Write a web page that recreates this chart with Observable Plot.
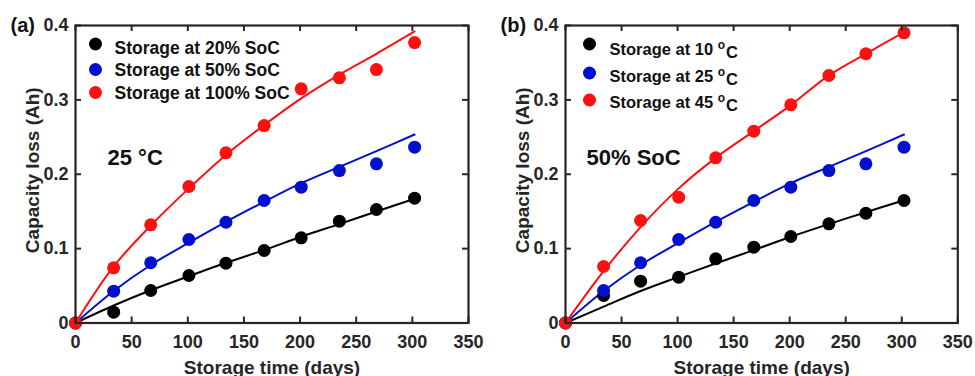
<!DOCTYPE html>
<html><head><meta charset="utf-8">
<script src="https://cdn.jsdelivr.net/npm/d3@7"></script>
<script src="https://cdn.jsdelivr.net/npm/@observablehq/plot@0.6"></script>
<style>
html,body{margin:0;padding:0;background:#fff;}
#wrap{position:relative;width:975px;height:376px;overflow:hidden;background:#fff;}
#a{position:absolute;left:0;top:0;}
#b{position:absolute;left:490px;top:0;}
</style></head><body>
<div id="wrap"><div id="a"></div><div id="b"></div></div>
<script>
// ---- data ----
const days = [0, 34, 67, 101, 134, 168, 201, 235, 268, 302];
const xTicks = [0, 50, 100, 150, 200, 250, 300, 350];
const yTicks = [0, 0.1, 0.2, 0.3, 0.4];
const xLabel = "Storage time (days)";
const yLabel = "Capacity loss (Ah)";
const colors = ["#000000", "#0010cc", "#ff1010"];

// panel (a): 25 °C, different SoC
const socNames = ["Storage at 20% SoC", "Storage at 50% SoC", "Storage at 100% SoC"];
const soc20 = [0, 0.0145, 0.0437, 0.0639, 0.0804, 0.0975, 0.1145, 0.1369, 0.1526, 0.1678];
const soc50 = [0, 0.0428, 0.0810, 0.1123, 0.1355, 0.1647, 0.1826, 0.2050, 0.2140, 0.2364];
const soc100 = [0, 0.0742, 0.1320, 0.1835, 0.2288, 0.2655, 0.3149, 0.3297, 0.3408, 0.3771];
const fit20 = [0, 0.0235, 0.044, 0.063, 0.081, 0.098, 0.116, 0.133, 0.150, 0.167];
const fit50 = [0, 0.043, 0.078, 0.108, 0.136, 0.163, 0.188, 0.210, 0.231, 0.2534];
const fit100 = [0, 0.076, 0.131, 0.181, 0.226, 0.266, 0.302, 0.334, 0.362, 0.392];

// panel (b): 50% SoC, different temperatures
const tempNames = ["Storage at 10 °C", "Storage at 25 °C", "Storage at 45 °C"];
const t10 = [0, 0.0370, 0.0562, 0.0616, 0.0863, 0.1020, 0.1163, 0.1334, 0.1476, 0.1647];
const t25 = [0, 0.0437, 0.0810, 0.1123, 0.1355, 0.1647, 0.1826, 0.2050, 0.2140, 0.2364];
const t45 = [0, 0.0760, 0.1378, 0.1691, 0.2221, 0.2579, 0.2934, 0.3328, 0.3620, 0.3902];
const fit10 = [0, 0.022, 0.043, 0.062, 0.080, 0.098, 0.116, 0.133, 0.149, 0.165];
const fit25 = [0, 0.043, 0.078, 0.108, 0.136, 0.163, 0.188, 0.210, 0.231, 0.2534];
const fit45 = [0, 0.0697, 0.129, 0.181, 0.222, 0.258, 0.293, 0.333, 0.362, 0.391];

const FONT = "'Liberation Sans', Arial, Helvetica, sans-serif";
const INK = "#262626";

function panel(o) {
  const W = o.width, H = 376, mL = 75, mR = o.marginRight, mT = 25, mB = 53.5;
  const pw = W - mL - mR, ph = H - mT - mB;
  const pts = [], fits = [];
  o.names.forEach((n, k) => days.forEach((d, i) => {
    pts.push({day: d, loss: o.values[k][i], name: n});
    fits.push({day: d, loss: o.fits[k][i], name: n});
  }));
  const legend = [];
  o.names.forEach((n, k) => {
    legend.push(Plot.dot([n], {frameAnchor: "top-left", dx: o.ldx, dy: o.ldy[k], r: 6.5, fill: d => d}));
    legend.push(Plot.text([n], {frameAnchor: "top-left", dx: o.tdx, dy: o.tdy[k], text: d => d,
      textAnchor: "start", lineAnchor: "middle", fontSize: o.lfont, fill: "#111"}));
  });
  return Plot.plot({
    width: W, height: H, marginLeft: mL, marginRight: mR, marginTop: mT, marginBottom: mB,
    x: {domain: [0, 350]},
    y: {domain: [0, 0.4]},
    color: {domain: o.names, range: colors},
    style: {fontFamily: FONT, fontWeight: "bold", fontSize: "18px", color: INK, background: "white", overflow: "visible"},
    marks: [
      Plot.line(fits, {x: "day", y: "loss", z: "name", stroke: "name", strokeWidth: 2, curve: "catmull-rom"}),
      Plot.dot(pts, {x: "day", y: "loss", fill: "name", r: 6.5}),
      Plot.tickX(xTicks, {x: d => d, insetTop: ph - 6, stroke: INK, strokeWidth: 2}),
      Plot.tickX(xTicks, {x: d => d, insetBottom: ph - 6, stroke: INK, strokeWidth: 2}),
      Plot.tickY(yTicks, {y: d => d, insetRight: pw - 6, stroke: INK, strokeWidth: 2}),
      Plot.tickY(yTicks, {y: d => d, insetLeft: pw - 6, stroke: INK, strokeWidth: 2}),
      Plot.frame({stroke: INK, strokeWidth: 2.2}),
      Plot.axisX({ticks: xTicks, tickSize: 0, tickPadding: 12.5, label: null, fontSize: 18, fill: INK}),
      Plot.axisY({ticks: yTicks, tickSize: 0, tickPadding: 7, label: null, fontSize: 18, fill: INK, tickFormat: d => String(d)}),
      Plot.text([xLabel], {frameAnchor: "bottom", dy: 50.5, text: d => d, textAnchor: "middle", lineAnchor: "bottom", fontSize: 19, fill: INK}),
      Plot.text([yLabel], {frameAnchor: "left", dx: -37, dy: -4, rotate: -90, text: d => d, textAnchor: "middle", lineAnchor: "bottom", fontSize: 19, fill: INK}),
      Plot.text([o.tag], {frameAnchor: "top-left", dx: -65, dy: 0, text: d => d, textAnchor: "start", lineAnchor: "middle", fontSize: 20, fill: "#111"}),
      Plot.text([o.note], {frameAnchor: "top-left", dx: o.ndx, dy: 132, text: d => d, textAnchor: "start", lineAnchor: "middle", fontSize: 22, fill: "#111"}),
      ...legend
    ]
  });
}

const a = panel({
  width: 490, marginRight: 22, tag: "(a)", note: "25 °C", ndx: 32,
  names: socNames, values: [soc20, soc50, soc100], fits: [fit20, fit50, fit100],
  ldx: 20, ldy: [18.5, 44, 67], tdx: 39, tdy: [22.5, 44.5, 67.5], lfont: 17.5
});
const b = panel({
  width: 485, marginRight: 17.7, tag: "(b)", note: "50% SoC", ndx: 21,
  names: tempNames, values: [t10, t25, t45], fits: [fit10, fit25, fit45],
  ldx: 24, ldy: [18.5, 47.5, 74.5], tdx: 44, tdy: [24.5, 51.5, 77.5], lfont: 16.5
});
document.getElementById("a").appendChild(a);
document.getElementById("b").appendChild(b);

// superscript "o" in the temperature legend entries
d3.select(b).selectAll("text").each(function() {
  const t = this.textContent;
  if (t.startsWith("Storage at") && t.endsWith("°C")) {
    const sel = d3.select(this);
    sel.text(t.slice(0, -2));
    sel.append("tspan").attr("dy", "-0.5em").attr("font-size", "12px").text("o");
    sel.append("tspan").attr("dy", "0.5em").attr("dx", "1").text("C");
  }
});
</script>
</body></html>
